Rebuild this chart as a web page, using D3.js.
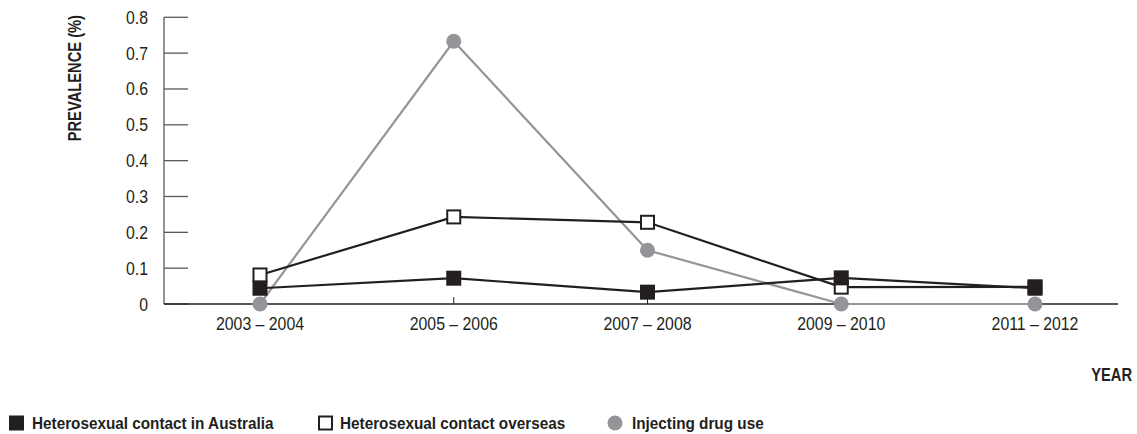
<!DOCTYPE html>
<html><head><meta charset="utf-8">
<script src="https://cdn.jsdelivr.net/npm/d3@7"></script>
<style>
body{margin:0;background:#fff;}
text{font-family:"Liberation Sans Narrow","Liberation Sans",Arial,sans-serif;}
</style></head>
<body><svg id="c" width="1137" height="434"></svg>
<script>
const categories = ["2003 – 2004","2005 – 2006","2007 – 2008","2009 – 2010","2011 – 2012"];
const australia = [0.044,0.072,0.033,0.073,0.044];
const overseas  = [0.081,0.243,0.228,0.047,0.048];
const idu       = [0.0,0.733,0.15,0.0,0.0];
const yTicks = [0,0.1,0.2,0.3,0.4,0.5,0.6,0.7,0.8];
const yTickLabels = ["0","0.1","0.2","0.3","0.4","0.5","0.6","0.7","0.8"];
const legendLabels = ["Heterosexual contact in Australia","Heterosexual contact overseas","Injecting drug use"];

const BLACK="#231f20", GRAY="#939598", AX="#58595b";
const svg=d3.select("#c");
const x=d3.scalePoint().domain(categories).range([260,1035]);
const y=d3.scaleLinear().domain([0,0.8]).range([304,17.3]);
const x0=164, x1=1118;
const TSX=0.88, BSX=0.84, LSX=0.9;

// y axis
const gy=svg.append("g").attr("transform",`translate(${x0},0)`);
gy.append("line").attr("y1",y(0.8)).attr("y2",y(0)).attr("stroke",AX).attr("stroke-width",1.3);
gy.selectAll("line.t").data(yTicks).join("line").attr("class","t")
  .attr("x1",0).attr("x2",24).attr("y1",d=>y(d)).attr("y2",d=>y(d)).attr("stroke",AX).attr("stroke-width",1.3);
gy.selectAll("text").data(yTicks).join("text")
  .attr("transform",d=>`translate(-16,${y(d)+6.5}) scale(${TSX},1)`).attr("text-anchor","end")
  .attr("font-size",18).attr("fill",BLACK).text((d,i)=>yTickLabels[i]);

// x axis
svg.append("line").attr("x1",x0).attr("x2",x1).attr("y1",y(0)).attr("y2",y(0)).attr("stroke",BLACK).attr("stroke-width",1.3);
svg.selectAll("line.xt").data(categories).join("line").attr("class","xt")
  .attr("x1",d=>x(d)).attr("x2",d=>x(d)).attr("y1",y(0)).attr("y2",y(0)-7).attr("stroke",BLACK).attr("stroke-width",1);
svg.selectAll("text.xl").data(categories).join("text").attr("class","xl")
  .attr("transform",d=>`translate(${x(d)},329.5) scale(${TSX},1)`).attr("text-anchor","middle")
  .attr("font-size",18).attr("fill",BLACK).text(d=>d);

// axis titles
svg.append("text").attr("transform",`translate(81,15) rotate(-90) scale(${BSX},1)`).attr("text-anchor","end")
  .attr("font-size",17.5).attr("font-weight","bold").attr("fill",BLACK).text("PREVALENCE (%)");
svg.append("text").attr("transform",`translate(1132,381) scale(${BSX},1)`).attr("text-anchor","end")
  .attr("font-size",17.5).attr("font-weight","bold").attr("fill",BLACK).text("YEAR");

const line=d3.line().x((d,i)=>x(categories[i])).y(d=>y(d));
// IDU
svg.append("path").datum(idu).attr("d",line).attr("fill","none").attr("stroke",GRAY).attr("stroke-width",2.2);
svg.selectAll("circle.idu").data(idu).join("circle").attr("class","idu")
  .attr("cx",(d,i)=>x(categories[i])).attr("cy",d=>y(d)).attr("r",7.5).attr("fill",GRAY);
// Overseas
svg.append("path").datum(overseas).attr("d",line).attr("fill","none").attr("stroke",BLACK).attr("stroke-width",2.2);
svg.selectAll("rect.ov").data(overseas).join("rect").attr("class","ov")
  .attr("x",(d,i)=>x(categories[i])-6.5).attr("y",d=>y(d)-6.5).attr("width",13).attr("height",13)
  .attr("fill","#fff").attr("stroke",BLACK).attr("stroke-width",2);
// Australia
svg.append("path").datum(australia).attr("d",line).attr("fill","none").attr("stroke",BLACK).attr("stroke-width",2.2);
svg.selectAll("rect.au").data(australia).join("rect").attr("class","au")
  .attr("x",(d,i)=>x(categories[i])-7.5).attr("y",d=>y(d)-7.5).attr("width",15).attr("height",15)
  .attr("fill",BLACK);

// legend
const ly=423;
function legText(tx,s){
  svg.append("text").attr("transform",`translate(${tx},${ly+6}) scale(${LSX},1)`)
    .attr("font-size",17).attr("font-weight","bold").attr("fill",BLACK).text(s);
}
svg.append("rect").attr("x",9).attr("y",ly-7.5).attr("width",15).attr("height",15).attr("fill",BLACK);
legText(32,legendLabels[0]);
svg.append("rect").attr("x",319).attr("y",ly-6.5).attr("width",13).attr("height",13).attr("fill","#fff").attr("stroke",BLACK).attr("stroke-width",2);
legText(340,legendLabels[1]);
svg.append("circle").attr("cx",615).attr("cy",ly).attr("r",7.5).attr("fill",GRAY);
legText(632,legendLabels[2]);
</script></body></html>
